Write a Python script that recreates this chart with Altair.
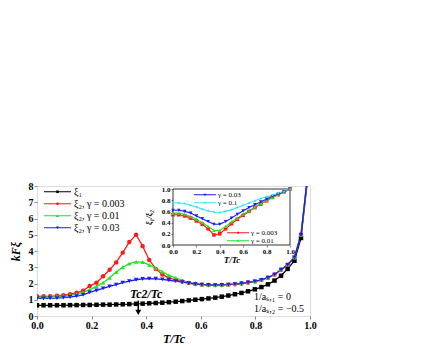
import altair as alt
import pandas as pd

# ---------------- main panel data ----------------
T_main = [0.000, 0.024, 0.048, 0.073, 0.097, 0.121, 0.145, 0.169, 0.193, 0.218,
          0.242, 0.266, 0.290, 0.314, 0.338, 0.363, 0.387, 0.411, 0.435, 0.459,
          0.483, 0.508, 0.532, 0.556, 0.580, 0.604, 0.628, 0.653, 0.677, 0.701,
          0.725, 0.749, 0.773, 0.798, 0.822, 0.846, 0.870, 0.894, 0.918, 0.943,
          0.967, 0.991]
xi1 = [0.66, 0.66, 0.66, 0.66, 0.66, 0.67, 0.67, 0.68, 0.68, 0.69,
       0.70, 0.70, 0.71, 0.72, 0.73, 0.75, 0.76, 0.78, 0.80, 0.82,
       0.85, 0.88, 0.92, 0.96, 1.00, 1.04, 1.08, 1.13, 1.19, 1.26,
       1.34, 1.42, 1.52, 1.64, 1.78, 1.95, 2.18, 2.48, 2.90, 3.40,
       4.80, 8.40]
xi2_g0003 = [1.21, 1.21, 1.22, 1.24, 1.28, 1.34, 1.43, 1.56, 1.85, 2.05,
             2.45, 2.85, 3.30, 3.90, 4.55, 5.00, 4.30, 3.45, 2.90, 2.55,
             2.35, 2.22, 2.12, 2.03, 1.97, 1.93, 1.91, 1.90, 1.91, 1.93,
             1.96, 2.00, 2.06, 2.13, 2.22, 2.36, 2.55, 2.85, 3.15, 3.60,
             5.00, 8.60]
xi2_g001 = [1.17, 1.17, 1.18, 1.20, 1.23, 1.28, 1.35, 1.45, 1.62, 1.82,
            2.05, 2.35, 2.70, 3.00, 3.22, 3.33, 3.32, 3.15, 2.95, 2.72,
            2.50, 2.35, 2.18, 2.07, 1.99, 1.94, 1.92, 1.91, 1.92, 1.94,
            1.97, 2.01, 2.07, 2.14, 2.23, 2.37, 2.56, 2.86, 3.16, 3.61,
            5.00, 8.60]
xi2_g003 = [1.08, 1.08, 1.09, 1.10, 1.13, 1.17, 1.22, 1.30, 1.45, 1.57,
            1.70, 1.82, 1.93, 2.05, 2.15, 2.23, 2.28, 2.30, 2.29, 2.25,
            2.20, 2.15, 2.08, 2.02, 1.97, 1.93, 1.91, 1.90, 1.91, 1.93,
            1.96, 2.00, 2.06, 2.13, 2.22, 2.36, 2.55, 2.85, 3.15, 3.60,
            5.00, 8.60]

main_names = ["ξ₁", "ξ₂, γ = 0.003", "ξ₂, γ = 0.01", "ξ₂, γ = 0.03"]
main_colors = ["#000000", "#ff1a1a", "#22e522", "#1a1aff"]
main_shapes = ["square", "circle", "triangle-up", "triangle-down"]

# ---------------- inset data ----------------
T_inset = [0.00, 0.05, 0.10, 0.15, 0.20, 0.25, 0.30, 0.35, 0.40, 0.45, 0.50,
           0.55, 0.60, 0.65, 0.70, 0.75, 0.80, 0.85, 0.90, 0.95, 1.00]
r_g0003 = [0.54, 0.54, 0.52, 0.48, 0.43, 0.37, 0.29, 0.18, 0.20, 0.29, 0.38,
           0.46, 0.53, 0.60, 0.67, 0.73, 0.79, 0.85, 0.90, 0.95, 1.00]
r_g001 = [0.57, 0.57, 0.55, 0.51, 0.46, 0.40, 0.33, 0.26, 0.26, 0.33, 0.41,
          0.48, 0.55, 0.61, 0.68, 0.74, 0.80, 0.85, 0.90, 0.95, 1.00]
r_g003 = [0.62, 0.62, 0.60, 0.57, 0.52, 0.47, 0.42, 0.37, 0.37, 0.42, 0.48,
          0.55, 0.61, 0.67, 0.72, 0.77, 0.82, 0.87, 0.91, 0.95, 1.00]
r_g01 = [0.75, 0.75, 0.74, 0.71, 0.68, 0.64, 0.61, 0.59, 0.58, 0.60, 0.63,
         0.67, 0.71, 0.75, 0.79, 0.83, 0.86, 0.89, 0.93, 0.96, 1.00]

inset_names = ["γ = 0.003", "γ = 0.01", "γ = 0.03", "γ = 0.1"]
inset_colors = ["#ff1a1a", "#22e522", "#1a1aff", "#33e6f2"]

STAR = ("M0,-1L0.235,-0.324L0.951,-0.309L0.38,0.124L0.588,0.809L0,0.4"
        "L-0.588,0.809L-0.38,0.124L-0.951,-0.309L-0.235,-0.324Z")
inset_shapes = ["square", "triangle-up", "triangle-down", STAR]

# annotation texts
tc_label = ["Tc2/Tc"]
param_labels = ["1/aₛ,₁ = 0", "1/aₛ,₂ = −0.5"]

# ---------------- helpers ----------------
def leg_line(h=0.04):
    return f"M-1,{-h}H1V{h}H-1Z "

def oct_path(r):
    k = round(0.707 * r, 4)
    return (f"M0,{-r}L{k},{-k}L{r},0L{k},{k}L0,{r}L{-k},{k}L{-r},0L{-k},{-k}Z")

def sq_path(a):
    return f"M{-a},{-a}H{a}V{a}H{-a}Z"

def tri_up(a):
    return f"M0,{-a}L{a},{round(a*0.7,4)}H{-a}Z"

def tri_dn(a):
    return f"M0,{a}L{-a},{round(-a*0.7,4)}H{a}Z"

def star(s):
    pts = [(0, -1), (0.235, -0.324), (0.951, -0.309), (0.38, 0.124), (0.588, 0.809),
           (0, 0.4), (-0.588, 0.809), (-0.38, 0.124), (-0.951, -0.309), (-0.235, -0.324)]
    p = "M" + "L".join(f"{round(x*s,4)},{round(y*s,4)}" for x, y in pts) + "Z"
    return p

main_leg_paths = [leg_line(0.035) + sq_path(0.1), leg_line(0.035) + oct_path(0.11),
                  leg_line(0.035) + tri_up(0.12), leg_line(0.035) + tri_dn(0.12)]
ins_leg_paths = [leg_line(0.04) + sq_path(0.1), leg_line(0.04) + tri_up(0.13),
                 leg_line(0.04) + tri_dn(0.13), leg_line(0.04) + star(0.17)]

FONT = "Liberation Serif"
W, H = 273, 130

# ---------------- frames ----------------
rows = []
for name, vals in zip(main_names, [xi1, xi2_g0003, xi2_g001, xi2_g003]):
    for t, v in zip(T_main, vals):
        rows.append({"T": t, "v": v, "s": name})
main_df = pd.DataFrame(rows)

rows = []
for name, vals in zip(inset_names, [r_g0003, r_g001, r_g003, r_g01]):
    for t, v in zip(T_inset, vals):
        rows.append({"T": t, "r": v, "s": name})
inset_df = pd.DataFrame(rows)

# ---------------- main panel ----------------
main_x_axis = alt.Axis(values=[0, 0.2, 0.4, 0.6, 0.8, 1.0], format=".1f", title="T/Tc",
                       labelFont=FONT, labelFontSize=10, labelFontWeight="bold",
                       titleFont=FONT, titleFontSize=12, titleFontStyle="italic",
                       titleFontWeight="bold", titlePadding=3, labelFlush=False,
                       grid=False, tickSize=3, labelPadding=1, domain=False)
main_y_axis = alt.Axis(values=list(range(0, 9)), title="kFξ",
                       labelFont=FONT, labelFontSize=10, labelFontWeight="bold",
                       titleFont=FONT, titleFontSize=12, titleFontStyle="italic",
                       titleFontWeight="bold", titlePadding=6, grid=False,
                       tickSize=3, labelPadding=1, domain=False)
mx = alt.X("T:Q", scale=alt.Scale(domain=[0, 1], nice=False, zero=False), axis=main_x_axis)
my = alt.Y("v:Q", scale=alt.Scale(domain=[0, 8], nice=False, zero=False), axis=main_y_axis)

mcol = alt.Scale(domain=main_names, range=main_colors)

leg_main = alt.Legend(orient="none", legendX=7, legendY=0, title=None, labelFont=FONT,
                      labelFontSize=10, symbolSize=729, clipHeight=11.5, rowPadding=0,
                      labelOffset=3, padding=0, symbolOpacity=1, symbolStrokeWidth=0)

m_lines = alt.Chart(main_df).mark_line(strokeWidth=1.3, clip=True).encode(
    x=mx, y=my, color=alt.Color("s:N", scale=mcol, legend=None))
m_pts = alt.Chart(main_df).mark_point(filled=True, size=20, opacity=1, clip=True).encode(
    x=mx, y=my, color=alt.Color("s:N", scale=mcol, legend=None),
    shape=alt.Shape("s:N", scale=alt.Scale(domain=main_names, range=main_shapes), legend=None))
m_leg = alt.Chart(main_df).mark_point(filled=True, opacity=0, clip=True).encode(
    x=mx, y=my, color=alt.Color("s:N", scale=mcol, legend=leg_main),
    shape=alt.Shape("s:N", scale=alt.Scale(domain=main_names, range=main_leg_paths), legend=leg_main))

arrow_df = pd.DataFrame({"T": [0.371], "v": [0.95], "v2": [0.25]})
head_df = pd.DataFrame({"T": [0.371], "v": [0.22]})
m_arrow = alt.Chart(arrow_df).mark_rule(strokeWidth=1.5, color="black").encode(
    x=mx, y=my, y2="v2:Q")
m_head = alt.Chart(head_df).mark_point(shape="triangle-down", filled=True, size=35,
                                       color="black", opacity=1).encode(x=mx, y=my)
tc_df = pd.DataFrame({"T": [0.40], "v": [1.35], "txt": tc_label})
m_tc = alt.Chart(tc_df).mark_text(font=FONT, fontSize=12, fontStyle="italic",
                                  fontWeight="bold", baseline="middle").encode(
    x=mx, y=my, text="txt:N")
par_df = pd.DataFrame({"T": [0.795, 0.795], "v": [1.2, 0.45], "txt": param_labels})
m_par = alt.Chart(par_df).mark_text(font=FONT, fontSize=10, align="left",
                                    baseline="middle").encode(x=mx, y=my, text="txt:N")

main = alt.layer(m_lines, m_pts, m_leg, m_arrow, m_head, m_tc, m_par).resolve_scale(
    color="independent", shape="independent")

# ---------------- inset panel ----------------
inset_x_axis = alt.Axis(orient="bottom", offset=-71, values=[0, 0.2, 0.4, 0.6, 0.8, 1.0],
                        format=".1f", title="T/Tc", labelFont=FONT, labelFontSize=7,
                        labelFontWeight="bold", titleFont=FONT, titleFontSize=9,
                        titleFontStyle="italic", titleFontWeight="bold", titlePadding=1,
                        labelFlush=False, grid=False, tickSize=2, labelPadding=0,
                        domain=False)
inset_y_axis = alt.Axis(orient="left", offset=-136, values=[0, 0.2, 0.4, 0.6, 0.8, 1.0],
                        format=".1f", title="ξ₁/ξ₂", labelFont=FONT, labelFontSize=7,
                        labelFontWeight="bold", titleFont=FONT, titleFontSize=8,
                        titleFontStyle="italic", titlePadding=8, grid=False,
                        tickSize=2, labelPadding=1, domain=False)
ix = alt.X("T:Q", scale=alt.Scale(domain=[0, 1], range=[136, 253], nice=False, zero=False),
           axis=inset_x_axis)
iy = alt.Y("r:Q", scale=alt.Scale(domain=[0, 1], range=[59, 3], nice=False, zero=False),
           axis=inset_y_axis)

icol = alt.Scale(domain=inset_names, range=inset_colors)
ishp = alt.Scale(domain=inset_names, range=inset_shapes)

box_df = pd.DataFrame({"T": [0.0], "T2": [1.0], "r": [0.0], "r2": [1.0]})
i_box = alt.Chart(box_df).mark_rect(fill="white", stroke="black", strokeWidth=0.8).encode(
    x=ix, x2="T2:Q", y=iy, y2="r2:Q")
i_lines = alt.Chart(inset_df).mark_line(strokeWidth=1.1).encode(
    x=ix, y=iy, color=alt.Color("s:N", scale=icol, legend=None))
i_pts = alt.Chart(inset_df).mark_point(filled=True, size=13, opacity=1).encode(
    x=ix, y=iy, color=alt.Color("s:N", scale=icol, legend=None),
    shape=alt.Shape("s:N", scale=ishp, legend=None))

top_names = inset_names[2:]
bot_names = inset_names[:2]
leg_top = alt.Legend(orient="none", legendX=157, legendY=6, title=None, labelFont=FONT,
                     labelFontSize=7, symbolSize=484, clipHeight=5.5, rowPadding=0,
                     labelOffset=2, padding=0, symbolOpacity=1, symbolStrokeWidth=0)
leg_bot = alt.Legend(orient="none", legendX=190, legendY=44, title=None, labelFont=FONT,
                     labelFontSize=7, symbolSize=484, clipHeight=5.5, rowPadding=0,
                     labelOffset=2, padding=0, symbolOpacity=1, symbolStrokeWidth=0)

top_df = inset_df[inset_df["s"].isin(top_names)]
bot_df = inset_df[inset_df["s"].isin(bot_names)]
i_leg_top = alt.Chart(top_df).mark_point(filled=True, opacity=0).encode(
    x=ix, y=iy,
    color=alt.Color("s:N", scale=alt.Scale(domain=top_names, range=inset_colors[2:]), legend=leg_top),
    shape=alt.Shape("s:N", scale=alt.Scale(domain=top_names, range=ins_leg_paths[2:]), legend=leg_top))
i_leg_bot = alt.Chart(bot_df).mark_point(filled=True, opacity=0).encode(
    x=ix, y=iy,
    color=alt.Color("s:N", scale=alt.Scale(domain=bot_names, range=inset_colors[:2]), legend=leg_bot),
    shape=alt.Shape("s:N", scale=alt.Scale(domain=bot_names, range=ins_leg_paths[:2]), legend=leg_bot))

inset = alt.layer(i_box, i_lines, i_pts, i_leg_top, i_leg_bot).resolve_scale(
    color="independent", shape="independent")

chart = alt.layer(main, inset).resolve_scale(
    x="independent", y="independent", color="independent", shape="independent"
).properties(
    width=W, height=H,
    autosize=alt.AutoSizeParams(type="none"),
    padding={"left": 29, "top": 178, "right": 100, "bottom": 30},
).configure_view(stroke="black", strokeWidth=1.2).configure(background="white")

chart.save("out.html", embed_options={"renderer": "svg", "actions": False})
